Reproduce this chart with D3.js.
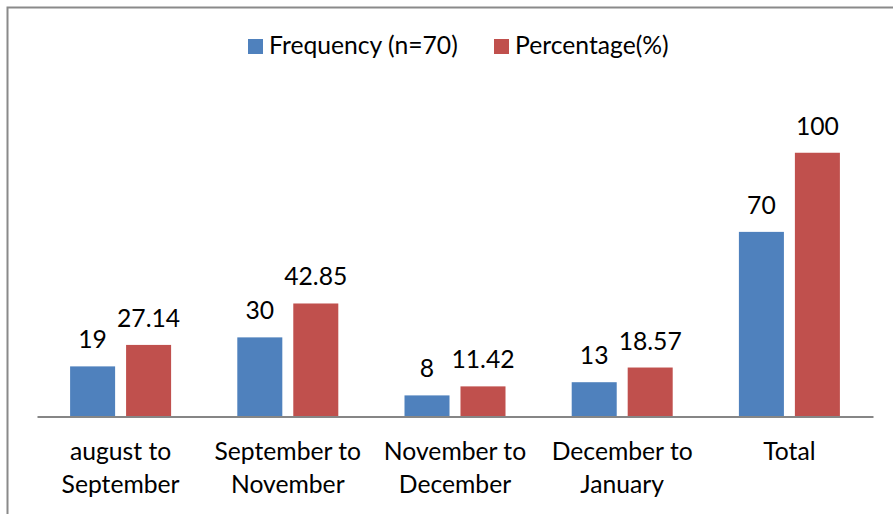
<!DOCTYPE html>
<html>
<head>
<meta charset="utf-8">
<script src="https://cdn.jsdelivr.net/npm/d3@7"></script>
<style>
  body { margin: 0; background: #fff; }
  text { font-family: Lato, "Open Sans", sans-serif; fill: #000; }
</style>
</head>
<body>
<svg id="chart"></svg>
<script>
var categories = [["august to", "September"], ["September to", "November"], ["November to", "December"], ["December to", "January"], ["Total"]];
var frequency = [19, 30, 8, 13, 70];
var percentage = [27.14, 42.85, 11.42, 18.57, 100];
var seriesNames = ["Frequency (n=70)", "Percentage(%)"];
var seriesColors = ["#4F81BD", "#C0504D"];

var width = 893, height = 514;
var margin = {top: 100, right: 20, bottom: 97.5, left: 37};
var fontSize = 24.7;

var svg = d3.select('#chart')
    .attr('width', width)
    .attr('height', height);

// outer chart border (runs off the right/bottom edge)
svg.append('rect')
    .attr('x', 7.5).attr('y', 7.5)
    .attr('width', width + 20).attr('height', height + 20)
    .attr('fill', 'none')
    .attr('stroke', '#8a8a8a')
    .attr('stroke-width', 2);

var keys = categories.map(function(c){ return c.join(' '); });

var xScale = d3.scaleBand()
    .domain(keys)
    .range([margin.left, width - margin.right]);

var xSub = d3.scaleBand()
    .domain([0, 1])
    .range([0, 101])
    .paddingInner(0.196);

var yScale = d3.scaleLinear()
    .domain([0, 120])
    .range([height - margin.bottom, margin.top]);

var groupOffset = (xScale.bandwidth() - 101) / 2;

var rows = keys.map(function(k, i){
    return {key: k, vals: [frequency[i], percentage[i]]};
});

var groups = svg.selectAll('g.grp')
    .data(rows)
    .enter().append('g')
    .attr('class', 'grp')
    .attr('transform', function(d){ return 'translate(' + (xScale(d.key) + groupOffset) + ',0)'; });

groups.selectAll('rect')
    .data(function(d){ return d.vals; })
    .enter().append('rect')
    .attr('x', function(d, j){ return xSub(j); })
    .attr('y', function(d){ return yScale(d); })
    .attr('width', xSub.bandwidth())
    .attr('height', function(d){ return yScale(0) - yScale(d); })
    .attr('fill', function(d, j){ return seriesColors[j]; });

// data labels
groups.selectAll('text.val')
    .data(function(d){ return d.vals; })
    .enter().append('text')
    .attr('class', 'val')
    .attr('x', function(d, j){ return xSub(j) + xSub.bandwidth() / 2; })
    .attr('y', function(d){ return yScale(d) - 18; })
    .attr('text-anchor', 'middle')
    .style('font-size', fontSize + 'px')
    .text(function(d){ return d; });

// baseline axis
var xAxis = d3.axisBottom(xScale).tickSize(0).tickFormat('');
var axisG = svg.append('g')
    .attr('transform', 'translate(0,' + yScale(0) + ')')
    .call(xAxis);
axisG.select('.domain').attr('stroke', '#868686').attr('stroke-width', 2);

// category labels, two lines
categories.forEach(function(lines, i){
    var t = svg.append('text')
        .attr('text-anchor', 'middle')
        .style('font-size', fontSize + 'px');
    lines.forEach(function(line, k){
        t.append('tspan')
            .attr('x', xScale(keys[i]) + xScale.bandwidth() / 2)
            .attr('y', 460 + k * 33)
            .text(line);
    });
});

// legend
var legendX = [248, 494];
seriesNames.forEach(function(name, j){
    svg.append('rect')
        .attr('x', legendX[j]).attr('y', 39)
        .attr('width', 15).attr('height', 15)
        .attr('fill', seriesColors[j]);
    svg.append('text')
        .attr('x', legendX[j] + 21).attr('y', 54)
        .style('font-size', fontSize + 'px')
        .text(name);
});
</script>
</body>
</html>
